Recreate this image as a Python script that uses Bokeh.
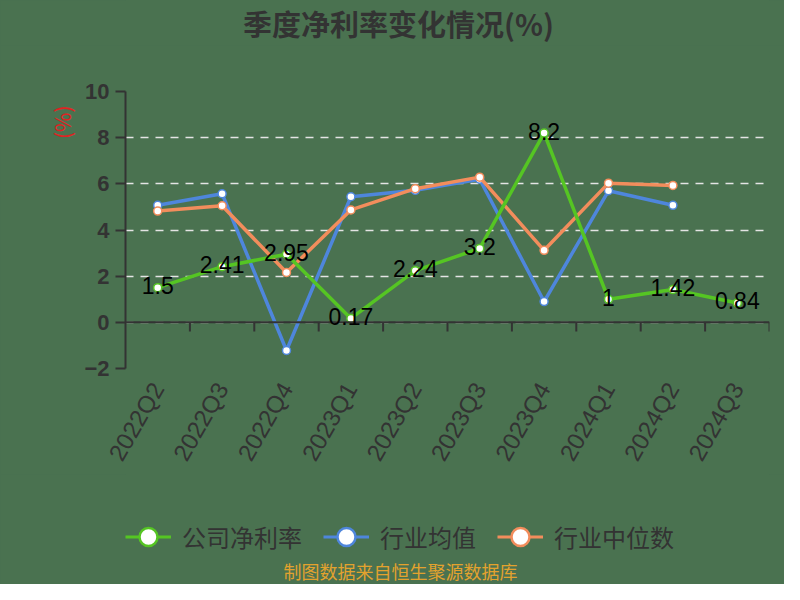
import math
from bokeh.plotting import figure
from bokeh.layouts import column
from bokeh.models import (ColumnDataSource, Range1d, FixedTicker, Legend,
                          LegendItem, Span, LabelSet, Label, Title)
from bokeh.core.properties import value
from bokeh.embed import file_html
from bokeh.resources import INLINE

# ---- data ----
categories = ["2022Q2", "2022Q3", "2022Q4", "2023Q1", "2023Q2",
              "2023Q3", "2023Q4", "2024Q1", "2024Q2", "2024Q3"]
company = [1.5, 2.41, 2.95, 0.17, 2.24, 3.2, 8.2, 1, 1.42, 0.84]
ind_mean = [5.07, 5.57, -1.22, 5.44, 5.72, 6.2, 0.9, 5.7, 5.07, float("nan")]
ind_median = [4.82, 5.05, 2.16, 4.87, 5.79, 6.29, 3.12, 6.03, 5.93, float("nan")]
y_ticks = [-2, 0, 2, 4, 6, 8, 10]
series_names = ["公司净利率", "行业均值", "行业中位数"]
title_text = "季度净利率变化情况(%)"
unit_text = "(%)"
source_text = "制图数据来自恒生聚源数据库"

BG = "#4a7250"
GREEN = "#55c523"
BLUE = "#4e86dc"
ORANGE = "#f28d5c"
DARK = "#333333"
CJK = "Noto Sans CJK SC"
NUM = "Liberation Sans"

n = len(categories)
xs = [i + 0.5 for i in range(n)]


def strip(height):
    f = figure(width=784, height=height, output_backend="svg",
               toolbar_location=None, tools="",
               x_range=Range1d(125, 769), y_range=Range1d(0, height),
               x_axis_type=None, y_axis_type=None, min_border=0,
               min_border_left=0, min_border_right=0, min_border_top=0,
               min_border_bottom=0, title=None)
    f.background_fill_color = BG
    f.border_fill_color = BG
    f.outline_line_color = None
    f.grid.visible = False
    f.styles = {"background-color": BG}
    return f


# ---------------- title strip ----------------
H1 = 45
t = strip(H1)
t.add_layout(Label(x=398, y=H1 - 22, text=title_text, text_align="center",
                   text_baseline="middle", text_font=CJK,
                   text_font_size="29px", text_font_style="bold",
                   text_color=DARK))

# ---------------- main chart ----------------
p = figure(width=784, height=429, output_backend="svg", toolbar_location=None,
           tools="", x_range=Range1d(0, n),
           y_range=Range1d(y_ticks[0], y_ticks[-1]),
           min_border_left=125, min_border_right=15, min_border_top=46,
           min_border_bottom=100, title=None)
p.background_fill_color = BG
p.border_fill_color = BG
p.outline_line_color = None
p.styles = {"background-color": BG}

# axes
yax = p.yaxis[0]
yax.ticker = FixedTicker(ticks=y_ticks)
yax.axis_line_color = DARK
yax.axis_line_width = 2
yax.major_tick_line_color = DARK
yax.major_tick_line_width = 2
yax.major_tick_out = 10
yax.major_tick_in = 0
yax.minor_tick_line_color = None
yax.major_label_standoff = 6
yax.major_label_text_font = NUM
yax.major_label_text_font_size = "22px"
yax.major_label_text_font_style = "bold"
yax.major_label_text_color = DARK

xax = p.xaxis[0]
xax.ticker = FixedTicker(ticks=xs)
xax.major_label_overrides = {x: c for x, c in zip(xs, categories)}
xax.axis_line_color = None
xax.major_tick_line_color = None
xax.minor_tick_line_color = None
xax.major_label_orientation = math.pi / 3
xax.major_label_standoff = 10
xax.major_label_text_font = NUM
xax.major_label_text_font_size = "24px"
xax.major_label_text_color = DARK

p.add_layout(Title(text=unit_text, align="right", offset=14,
                   text_font=CJK, text_font_size="21px",
                   text_font_style="normal", text_color="#e02222"), "left")

p.xgrid.grid_line_color = None
p.ygrid.ticker = FixedTicker(ticks=y_ticks)
p.ygrid.grid_line_color = "#e4e4e4"
p.ygrid.grid_line_width = 1.5
p.ygrid.grid_line_dash = "8 7"

# zero axis line with category-boundary ticks
p.add_layout(Span(location=0, dimension="width", line_color=DARK, line_width=2))
bounds = list(range(1, n + 1))
p.segment(x0=bounds, x1=bounds, y0=[0] * n, y1=[-0.4] * n,
          line_color=DARK, line_width=2)

# series
def draw(vals, color):
    src = ColumnDataSource(dict(x=xs, y=vals))
    p.line("x", "y", source=src, line_color=color, line_width=3.5)
    p.scatter("x", "y", source=src, size=8, fill_color="white",
              line_color=color, line_width=1.5)

draw(ind_mean, BLUE)
draw(ind_median, ORANGE)
draw(company, GREEN)

lab_src = ColumnDataSource(dict(x=xs, y=company, t=[f"{v:g}" for v in company]))
p.add_layout(LabelSet(x="x", y="y", text="t", source=lab_src,
                      text_align="center", text_baseline="middle", y_offset=2,
                      text_font=value(NUM), text_font_size="23px",
                      text_color="black"))

# ---------------- legend + source strip ----------------
H2 = 110
q = strip(H2)
nan = float("nan")
items = []
for name, color in zip(series_names, [GREEN, BLUE, ORANGE]):
    lr = q.line([nan], [nan], line_color=color, line_width=3)
    sr = q.scatter([nan], [nan], size=18, fill_color="white", line_color=color,
                   line_width=2.5)
    items.append(LegendItem(label=name, renderers=[lr, sr]))
leg = Legend(items=items, orientation="horizontal", location=(0, 25),
             glyph_width=46, glyph_height=45, label_standoff=11, spacing=21,
             padding=0, margin=0, background_fill_alpha=0, border_line_alpha=0,
             label_text_font=CJK, label_text_font_size="24px",
             label_text_color=DARK)
q.add_layout(leg, "center")

q.add_layout(Label(x=400, y=14, text=source_text, text_align="center",
                   text_baseline="middle", text_font=CJK,
                   text_font_size="18px", text_color="#e3a22e"))

layout = column(t, p, q, spacing=0, styles={"background-color": BG})
open("out.html", "w").write(file_html(layout, INLINE))
